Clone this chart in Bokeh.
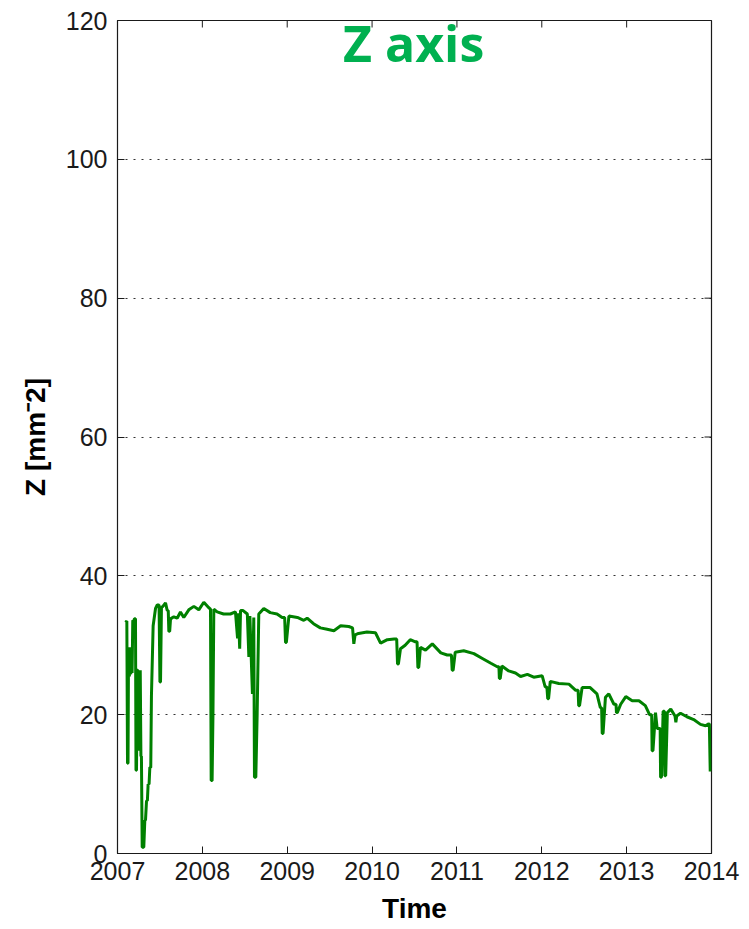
from bokeh.plotting import figure
from bokeh.models import FixedTicker, Label, Range1d
from bokeh.embed import file_html
from bokeh.resources import INLINE

# decimal years and Z values
years = [
    2007.094, 2007.110, 2007.118, 2007.124, 2007.130, 2007.140, 2007.148, 2007.156, 2007.164, 2007.172,
    2007.180, 2007.188, 2007.200, 2007.212, 2007.218, 2007.224, 2007.232, 2007.240, 2007.255, 2007.268,
    2007.276, 2007.282, 2007.291, 2007.310, 2007.322, 2007.330, 2007.342, 2007.352, 2007.361, 2007.372,
    2007.381, 2007.392, 2007.400, 2007.420, 2007.448, 2007.468, 2007.490, 2007.500, 2007.507, 2007.518,
    2007.527, 2007.566, 2007.586, 2007.598, 2007.605, 2007.615, 2007.625, 2007.664, 2007.703, 2007.742,
    2007.781, 2007.840, 2007.900, 2007.958, 2008.017, 2008.076, 2008.096, 2008.104, 2008.115, 2008.125,
    2008.135, 2008.174, 2008.250, 2008.330, 2008.390, 2008.415, 2008.425, 2008.440, 2008.450, 2008.480,
    2008.530, 2008.548, 2008.560, 2008.590, 2008.606, 2008.614, 2008.630, 2008.646, 2008.665, 2008.724,
    2008.800, 2008.880, 2008.940, 2008.970, 2008.980, 2008.990, 2009.020, 2009.120, 2009.195, 2009.235,
    2009.310, 2009.390, 2009.470, 2009.550, 2009.630, 2009.725, 2009.770, 2009.785, 2009.800, 2009.840,
    2009.940, 2010.040, 2010.100, 2010.180, 2010.260, 2010.290, 2010.300, 2010.310, 2010.335, 2010.390,
    2010.450, 2010.510, 2010.530, 2010.540, 2010.550, 2010.570, 2010.630, 2010.710, 2010.810, 2010.885,
    2010.935, 2010.944, 2010.955, 2010.980, 2011.080, 2011.200, 2011.300, 2011.400, 2011.475, 2011.495,
    2011.500, 2011.510, 2011.530, 2011.610, 2011.690, 2011.750, 2011.830, 2011.905, 2012.005, 2012.040,
    2012.060, 2012.070, 2012.080, 2012.100, 2012.200, 2012.320, 2012.400, 2012.428, 2012.435, 2012.445,
    2012.475, 2012.570, 2012.650, 2012.690, 2012.705, 2012.712, 2012.722, 2012.750, 2012.790, 2012.850,
    2012.875, 2012.880, 2012.890, 2012.930, 2012.990, 2013.065, 2013.145, 2013.220, 2013.270, 2013.295,
    2013.300, 2013.310, 2013.340, 2013.360, 2013.395, 2013.400, 2013.410, 2013.430, 2013.445, 2013.450,
    2013.460, 2013.480, 2013.520, 2013.570, 2013.580, 2013.590, 2013.635, 2013.710, 2013.790, 2013.870,
    2013.930, 2013.968, 2013.975, 2013.985,
]
z_values = [
    33.3, 33.5, 13.0, 13.0, 29.7, 25.5, 29.7, 25.8, 29.5, 26.0,
    33.6, 33.4, 33.8, 33.8, 12.0, 12.0, 26.4, 26.4, 14.8, 26.4,
    14.0, 14.0, 0.9, 0.9, 4.8, 4.8, 7.6, 7.6, 10.0, 10.0,
    12.4, 12.4, 22.7, 32.8, 35.3, 35.8, 35.8, 24.7, 24.7, 35.5,
    35.5, 36.1, 35.0, 35.0, 32.0, 32.0, 33.8, 34.1, 33.9, 34.8,
    34.0, 35.1, 35.6, 35.1, 36.2, 35.4, 35.2, 10.5, 10.5, 20.0,
    35.2, 34.8, 34.5, 34.5, 34.8, 31.0, 34.6, 29.5, 35.0, 35.0,
    34.5, 28.3, 34.2, 23.0, 34.0, 11.0, 11.0, 20.2, 34.5, 35.3,
    34.7, 34.5, 34.0, 34.0, 30.4, 30.4, 34.2, 34.0, 33.6, 33.9,
    33.1, 32.5, 32.3, 32.1, 32.8, 32.7, 32.5, 30.2, 31.5, 31.7,
    31.9, 31.8, 30.3, 30.8, 30.9, 30.9, 27.3, 27.3, 29.5, 30.0,
    30.8, 30.5, 30.5, 26.8, 26.8, 29.7, 29.3, 30.2, 28.9, 28.6,
    28.6, 26.4, 26.4, 29.0, 29.2, 28.8, 28.1, 27.4, 26.9, 26.9,
    25.2, 25.2, 27.0, 26.3, 26.0, 25.5, 25.8, 25.4, 25.6, 24.0,
    24.0, 22.3, 22.3, 24.8, 24.5, 24.4, 23.5, 23.5, 21.3, 21.3,
    23.9, 23.9, 23.0, 21.0, 21.0, 17.3, 17.3, 22.5, 23.0, 21.5,
    21.5, 20.3, 20.3, 21.5, 22.6, 22.0, 22.0, 21.3, 20.0, 20.0,
    14.8, 14.8, 20.3, 18.0, 18.0, 11.0, 11.0, 20.5, 20.5, 11.2,
    11.2, 20.3, 20.8, 19.8, 18.9, 19.8, 20.2, 19.7, 19.3, 18.6,
    18.4, 18.7, 18.6, 11.8,
]
x_ticks = [2007, 2008, 2009, 2010, 2011, 2012, 2013, 2014]
y_ticks = [0, 20, 40, 60, 80, 100, 120]

FONT = "Liberation Sans"
INK = "#1a1a1a"
X0, X1, Y0, Y1 = 2007, 2014, 0, 120
FRAME_W, FRAME_H = 594, 833
TICK_PX = 7

p = figure(width=749, height=929, output_backend="svg", toolbar_location=None,
           x_range=Range1d(X0, X1), y_range=Range1d(Y0, Y1),
           min_border_left=117, min_border_right=38, min_border_top=20, min_border_bottom=76)
p.background_fill_color = "white"
p.border_fill_color = "white"
p.outline_line_color = INK
p.outline_line_width = 1.2

p.line(years, z_values, line_color="#008000", line_width=3)

# inward ticks on the top and right edges of the box
dy = TICK_PX * (Y1 - Y0) / FRAME_H
dx = TICK_PX * (X1 - X0) / FRAME_W
p.segment(x0=x_ticks, y0=[Y1] * len(x_ticks), x1=x_ticks, y1=[Y1 - dy] * len(x_ticks),
          line_color=INK, line_width=1)
p.segment(x0=[X1] * len(y_ticks), y0=y_ticks, x1=[X1 - dx] * len(y_ticks), y1=y_ticks,
          line_color=INK, line_width=1)

p.xgrid.visible = False
p.ygrid.ticker = FixedTicker(ticks=y_ticks)
p.ygrid.grid_line_color = "#333333"
p.ygrid.grid_line_dash = "2 6"
p.ygrid.grid_line_width = 1.2

p.xaxis.ticker = FixedTicker(ticks=x_ticks)
p.yaxis.ticker = FixedTicker(ticks=y_ticks)

for ax in list(p.xaxis) + list(p.yaxis):
    ax.major_tick_in = TICK_PX
    ax.major_tick_out = 0
    ax.minor_tick_line_color = None
    ax.axis_line_color = INK
    ax.major_tick_line_color = INK
    ax.major_label_text_font = FONT
    ax.major_label_text_font_size = "25px"
    ax.major_label_text_color = INK
    ax.axis_label_text_font = FONT
    ax.axis_label_text_font_size = "28px"
    ax.axis_label_text_font_style = "bold"
    ax.axis_label_text_color = "#000000"

p.xaxis.axis_label = "Time"
p.xaxis.major_label_standoff = 8
p.xaxis.axis_label_standoff = 10
p.yaxis.axis_label = "Z [mm\u207b2]"
p.yaxis.major_label_standoff = 10
p.yaxis.axis_label_standoff = 12

title = Label(x=2010.49, y=116.8, text="Z axis", text_align="center", text_baseline="alphabetic",
              text_font="Open Sans", text_font_style="bold", text_font_size="50px",
              text_color="#00B050")
p.add_layout(title)

open("out.html", "w").write(file_html(p, INLINE))
